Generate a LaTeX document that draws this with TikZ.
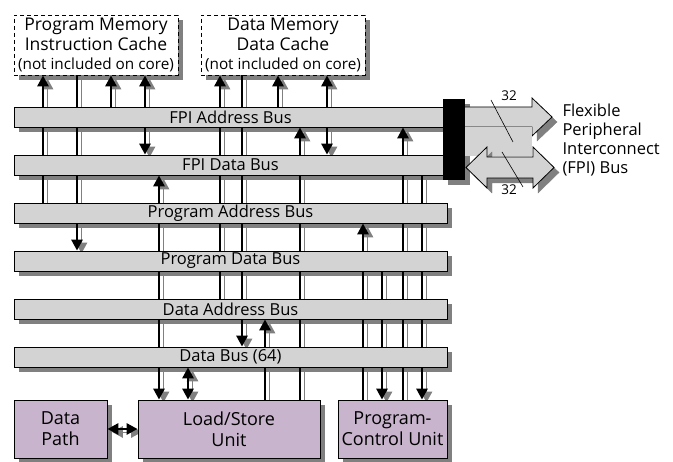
\documentclass[tikz,border=0pt]{standalone}
\usepackage{fontspec}
\setmainfont{Open Sans}
\usetikzlibrary{arrows.meta, positioning}
\definecolor{BarGray}{HTML}{D3D3D3}
\definecolor{ShadeGray}{HTML}{808080}
\definecolor{UnitLilac}{HTML}{C8B4CC}
\pgfdeclarelayer{back}
\pgfdeclarelayer{wires}
\pgfsetlayers{back,wires,main}
\tikzset{
  bus/.style={draw, fill=BarGray, line width=0.8pt, minimum width=433pt, minimum height=20pt, inner sep=0pt},
  membox/.style={draw, dash pattern=on 4pt off 3pt, fill=white, line width=0.8pt, minimum width=164pt, minimum height=60pt, inner sep=0pt, align=center, font=\fontsize{17.5}{19.5}\selectfont},
  unit/.style={draw, fill=UnitLilac, line width=0.8pt, minimum height=58pt, inner sep=0pt, align=center, font=\fontsize{18}{21}\selectfont},
  wire/.style={line width=2.8pt, preaction={draw=ShadeGray, transform canvas={shift={(4.5pt,-3pt)}}}},
  arr/.style={-{Triangle[length=11pt,width=11pt]}},
  bidir/.style={{Triangle[length=11pt,width=11pt]}-{Triangle[length=11pt,width=11pt]}},
  fpiarrow/.style={draw, fill=BarGray, line width=0.8pt, preaction={fill=ShadeGray, draw=ShadeGray, transform canvas={shift={(5pt,-5pt)}}}}
}
\begin{document}
\begin{tikzpicture}[x=1pt, y=-1pt, font=\fontsize{16.5}{19}\selectfont]
  \useasboundingbox (0,0) rectangle (673,462);

  % Memories
  \node[membox] (pmem) at (96,45) {Program Memory\\Instruction Cache\\{\fontsize{15.3}{19}\selectfont(not included on core)}};
  \node[membox] (dmem) at (283,45) {Data Memory\\Data Cache\\{\fontsize{15.3}{19}\selectfont(not included on core)}};

  % Buses
  \foreach \n/\ypos/\txt in {fab/117/FPI Address Bus, fdb/165/FPI Data Bus, pab/213/Program Address Bus,
                             pdb/261/Program Data Bus, dab/309/Data Address Bus, db/357/Data Bus (64)}
    \node[bus] (\n) at (230.5,\ypos) {\txt};

  % Units
  \node[unit, minimum width=93pt] (dp) at (60.5,429) {Data\\Path};
  \node[unit, minimum width=182pt] (ls) at (229,429) {Load/Store\\Unit};
  \node[unit, minimum width=109pt] (pcu) at (392.5,429) {Program-\\Control Unit};

  % Links (behind the buses)
  \begin{pgfonlayer}{wires}
    \foreach \x/\a/\b/\tp in {43/pab.north/pmem.south/arr, 77/pmem.south/pdb.north/arr,
                              111/fab.north/pmem.south/arr, 145/pmem.south/fdb.north/bidir,
                              159/ls.north/fdb.south/bidir, 188/db.south/ls.north/bidir,
                              220/dab.north/dmem.south/arr, 242/dmem.south/db.north/arr,
                              265/ls.north/dab.south/arr, 278/fab.north/dmem.south/arr,
                              300/ls.north/fab.south/arr, 327/dmem.south/fdb.north/bidir,
                              363/pcu.north/pab.south/arr, 382/pdb.south/pcu.north/arr,
                              403/pcu.north/fab.south/arr, 422/fdb.south/pcu.north/arr}
      \draw[wire,\tp] (\x,0 |- \a) -- (\x,0 |- \b);
    \draw[wire,bidir] (dp) -- (ls);
  \end{pgfonlayer}

  % FPI bus to the outside
  \draw[fpiarrow] (463,107) -- (532,107) -- (532,98) -- (552,117) -- (532,136) -- (532,127) -- (463,127) -- cycle;
  \fill[BarGray] (463,127.5) rectangle (531.5,156.5);
  \draw[fpiarrow] (466,167.5) -- (487,147) -- (487,157) -- (533,157) -- (533,147) -- (554,167.5)
                  -- (533,188) -- (533,178) -- (487,178) -- (487,188) -- cycle;
  \node[fill=black, minimum width=22pt, minimum height=81pt, inner sep=0pt] (blk) at (454,139.5) {};
  \draw[line width=0.6pt] (491,100) -- (513,142);
  \draw[line width=0.6pt] (502,152) -- (523,187);
  \node[font=\fontsize{13.5}{15}\selectfont] (w1) at (509,96) {32};
  \node[font=\fontsize{13.5}{15}\selectfont] (w2) at (509,190) {32};
  \node[anchor=west, align=left] (fpi) at (559,140) {Flexible\\Peripheral\\Interconnect\\(FPI) Bus};

  % Shadows
  \begin{pgfonlayer}{back}
    \foreach \n in {fab,fdb,pab,pdb,dab,db,pmem,dmem,dp,ls,pcu,blk}
      \fill[ShadeGray] ([shift={(5pt,-5pt)}]\n.north west) rectangle ([shift={(5pt,-5pt)}]\n.south east);
  \end{pgfonlayer}
\end{tikzpicture}
\end{document}
